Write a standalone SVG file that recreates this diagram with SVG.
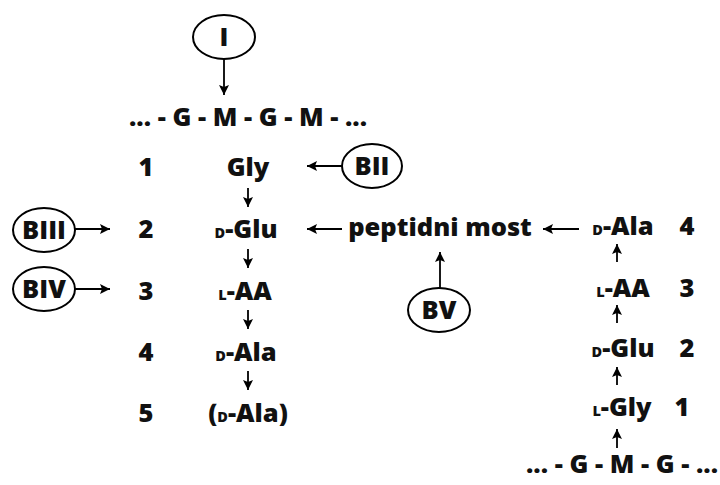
<svg xmlns="http://www.w3.org/2000/svg" width="720" height="485" viewBox="0 0 720 485">
<defs>
<marker id="ah" markerUnits="userSpaceOnUse" markerWidth="11" markerHeight="10" refX="10" refY="5" orient="auto">
<path d="M0,0 L10,5 L0,10 L2,5 z" fill="#000"/>
</marker>
<style>
text{font-family:"Open Sans","DejaVu Sans",sans-serif;font-weight:800;fill:#111;}
.t{font-size:25.5px;text-anchor:middle;}
.c{font-size:25.5px;text-anchor:middle;}
.sc{font-size:14.5px;}
.e{fill:#fff;stroke:#000;stroke-width:2;}
.a{stroke:#000;stroke-width:1.8;fill:none;marker-end:url(#ah);}
</style>
</defs>
<rect width="720" height="485" fill="#fff"/>

<g id="nodeI"><ellipse class="e" cx="224" cy="37" rx="31" ry="22"/><text class="t" x="224" y="46">I</text></g>
<g id="chainTop"><text class="c" x="248" y="126">... - G - M - G - M - ...</text></g>
<g id="nodeBII"><ellipse class="e" cx="372" cy="166" rx="30" ry="22"/><text class="t" x="372" y="175">BII</text></g>
<g id="nodeBIII"><ellipse class="e" cx="44" cy="230" rx="31" ry="22"/><text class="t" x="44" y="239">BIII</text></g>
<g id="nodeBIV"><ellipse class="e" cx="44" cy="289" rx="31" ry="22"/><text class="t" x="44" y="298">BIV</text></g>
<g id="nodeBV"><ellipse class="e" cx="439" cy="310" rx="31" ry="22"/><text class="t" x="439" y="319">BV</text></g>

<g id="leftNumbers">
<text class="t" x="146" y="176">1</text>
<text class="t" x="146" y="238">2</text>
<text class="t" x="146" y="300">3</text>
<text class="t" x="146" y="361">4</text>
<text class="t" x="146" y="422">5</text>
</g>
<g id="leftChain">
<text class="t" x="248" y="176">Gly</text>
<text class="t" x="246" y="238"><tspan class="sc">D</tspan>-Glu</text>
<text class="t" x="245" y="300"><tspan class="sc">L</tspan>-AA</text>
<text class="t" x="246" y="361"><tspan class="sc">D</tspan>-Ala</text>
<text class="t" x="248" y="422">(<tspan class="sc">D</tspan>-Ala)</text>
</g>
<g id="bridge"><text class="t" x="440" y="236">peptidni most</text></g>
<g id="rightChain">
<text class="t" x="623" y="235"><tspan class="sc">D</tspan>-Ala</text>
<text class="t" x="623" y="297"><tspan class="sc">L</tspan>-AA</text>
<text class="t" x="623" y="357"><tspan class="sc">D</tspan>-Glu</text>
<text class="t" x="622" y="416"><tspan class="sc">L</tspan>-Gly</text>
</g>
<g id="rightNumbers">
<text class="t" x="687" y="235">4</text>
<text class="t" x="687" y="297">3</text>
<text class="t" x="687" y="357">2</text>
<text class="t" x="682" y="416">1</text>
</g>
<g id="chainBottom"><text class="c" x="622" y="473">... - G - M - G - ...</text></g>

<g id="connectors">
<line class="a" x1="224" y1="59" x2="224" y2="95"/>
<line class="a" x1="342" y1="166" x2="307" y2="166"/>
<line class="a" x1="75" y1="229" x2="110" y2="229"/>
<line class="a" x1="75" y1="289" x2="110" y2="289"/>
<line class="a" x1="342" y1="229" x2="307" y2="229"/>
<line class="a" x1="579" y1="229" x2="543" y2="229"/>
<line class="a" x1="440" y1="288" x2="440" y2="252"/>
<line class="a" x1="248" y1="188" x2="248" y2="207"/>
<line class="a" x1="248" y1="249" x2="248" y2="268"/>
<line class="a" x1="248" y1="310" x2="248" y2="329"/>
<line class="a" x1="248" y1="371" x2="248" y2="390"/>
<line class="a" x1="617" y1="262" x2="617" y2="244"/>
<line class="a" x1="617" y1="323" x2="617" y2="305"/>
<line class="a" x1="617" y1="385" x2="617" y2="367"/>
<line class="a" x1="617" y1="448" x2="617" y2="429"/>
</g>
</svg>
